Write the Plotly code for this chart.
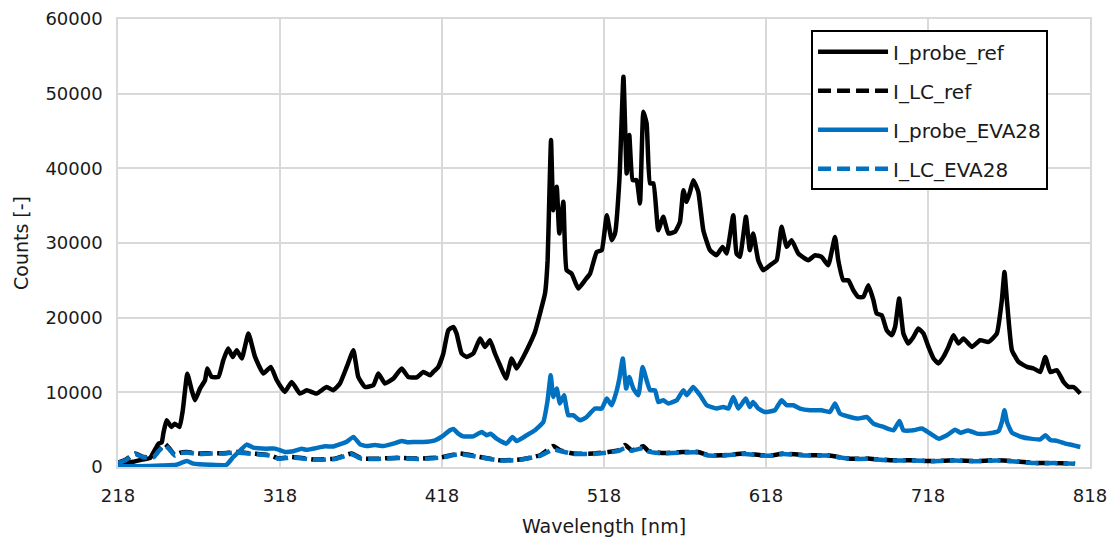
import plotly.graph_objects as go

# Emission spectra: probe and light-coupling counts vs. wavelength
wl_probe_ref = [218, 222, 227.5, 233, 237.8, 240.5, 242.9, 245, 246, 248, 251, 253, 256, 258, 260.8,
                263.5, 265.5, 268.6, 271.7, 273.1, 275.8, 280, 283, 286, 288.8, 291.3, 294.4, 298.5,
                302.6, 307.7, 312.3, 316, 321, 325.2, 330.3, 334.5, 340.6, 346.8, 350.9, 355, 359.2,
                363.3, 366.3, 370.5, 375.6, 378.7, 382.8, 388, 393.1, 397.2, 402.4, 406.5, 410.6,
                412.6, 415.7, 418.8, 421.9, 425, 427, 430.1, 433.2, 437.3, 441.5, 444.5, 447.6, 450.7,
                453.8, 457.5, 461, 464.1, 468.2, 472.3, 475.4, 478.5, 481.6, 483.2, 484.2, 485.3,
                486.7, 488.8, 490.4, 492.9, 494.9, 498, 502.1, 506.3, 509.4, 513.5, 516.6, 519.7,
                522.8, 524.8, 527.5, 530, 532, 533.6, 535.7, 538.1, 540.2, 542.3, 544.3, 546.4, 548.5,
                551.5, 554.6, 557.7, 561.8, 564.9, 567, 569, 571.1, 573.1, 576.2, 579.3, 583.4, 587.5,
                591.2, 593.7, 597.8, 599.8, 601.9, 605.6, 608, 610.1, 613.2, 616.3, 620.5, 624.6,
                627.6, 630.8, 633.8, 637.9, 644.1, 648.3, 652.3, 656.4, 660.6, 662.6, 665.7, 668.8,
                671.9, 675, 678.1, 681.2, 684.3, 686.3, 689.4, 692.5, 695.6, 697.7, 700.2, 702.8,
                705.9, 709, 712, 715.2, 718.3, 721.4, 724.5, 727.5, 730.6, 733.7, 736.8, 739.9, 745.1,
                750.2, 755.4, 760.5, 763.6, 765.2, 766.7, 769.8, 773.9, 779.1, 783.2, 787.3, 790.4,
                793.5, 797.6, 801.7, 804.8, 807.9, 812]
i_probe_ref = [500, 600, 700, 1000, 1200, 2200, 3100, 3300, 4500, 6250, 5360, 5800, 5360, 7600, 12500,
               10280, 8940, 10500, 11600, 13200, 12060, 12060, 14300, 15870, 14740, 15640, 14530, 17870,
               14740, 12520, 13400, 11620, 10050, 11390, 9830, 10280, 9830, 10720, 10280, 11180, 13400,
               15640, 12060, 10720, 10950, 12520, 11180, 11850, 13190, 12060, 12000, 12730, 12290,
               12730, 13400, 15200, 18320, 18760, 17870, 15200, 14740, 15200, 17200, 16080, 16980, 15200,
               13630, 11850, 14530, 13190, 14740, 16540, 18090, 20560, 23240, 27700, 35740, 43780,
               34400, 37520, 31280, 35510, 26360, 25900, 23900, 25020, 25900, 28800, 29040, 33730,
               30380, 31280, 38420, 52260, 39320, 44450, 38420, 38420, 35300, 47570, 46020, 37980, 37980,
               31720, 33500, 31280, 31500, 32830, 37080, 35510, 36850, 38420, 36850, 31720, 29040, 28370,
               29480, 28600, 33730, 28600, 28140, 33500, 29040, 31280, 27700, 26360, 27030, 27700,
               32160, 29480, 30380, 28600, 27700, 28370, 28140, 27030, 30820, 27700, 25020, 25020,
               23680, 22780, 22780, 24350, 22340, 20560, 20330, 18320, 17650, 18760, 22570, 17880,
               16540, 17420, 18540, 17880, 16080, 14530, 13860, 14740, 16080, 17650, 16540, 17200, 16080,
               16980, 16750, 17880, 22340, 26130, 22340, 15640, 14070, 13400, 13190, 12730, 14740,
               12730, 12960, 11390, 10720, 10720, 9830]

wl_probe_eva = [218, 230, 245, 254, 260.5, 264.5, 275, 285, 289, 293.3, 297.4, 301.5, 309.7, 315, 321,
                326.2, 331.3, 334.4, 345.8, 350.9, 356, 359, 363.3, 367.4, 371.4, 376.6, 381.7, 388,
                393.1, 397, 401.3, 406.5, 413.7, 418.8, 422.9, 425, 428, 431.1, 437.3, 442.5, 445.6,
                448, 451.7, 457.7, 461.5, 464.1, 470.3, 475.4, 480.5, 483.2, 485.1, 486.7, 488.8, 490.8,
                493.3, 495.9, 499, 503.2, 507.3, 512.4, 516.6, 519.7, 522.8, 525.9, 527.5, 529.6, 531.7,
                533.6, 536.1, 539.2, 541.8, 544.3, 546.4, 549.5, 551.5, 554.6, 557.7, 562.9, 567, 569,
                573.1, 577.3, 581.4, 587.5, 591.7, 594.8, 597.8, 600.9, 605.5, 608, 610, 613.2, 617.3,
                623.5, 627.6, 630.8, 634.8, 639, 645.2, 652.3, 657.4, 660.6, 663.7, 669.9, 675, 680.2,
                684.3, 690.5, 696.7, 700.4, 702.8, 709, 714.2, 719.4, 724.5, 729.7, 734.7, 738, 742.8,
                748.2, 754.4, 761.5, 763.6, 765.2, 766.8, 769.8, 775.9, 781.2, 787.3, 790.4, 793.5,
                797.6, 802.8, 807, 812]
i_probe_eva = [100, 100, 200, 300, 800, 450, 300, 300, 1300, 2200, 3000, 2600, 2460, 2460, 2010,
               2100, 2460, 2300, 2770, 2750, 3130, 3350, 4020, 3040, 2800, 2950, 2800, 3130,
               3480, 3300, 3350, 3350, 3580, 4200, 4920, 5100, 4470, 4100, 4110, 4690, 4250,
               4470, 3800, 3130, 4020, 3480, 4250, 4920, 6000, 8940, 12290, 9380, 10510, 8500,
               9610, 6930, 6930, 6260, 6700, 7830, 7830, 9170, 8270, 10280, 11850, 14530, 10510,
               12060, 10510, 9610, 13400, 11620, 10280, 10280, 8710, 8940, 8500, 8940, 10280, 9610,
               10720, 9610, 8270, 7830, 8040, 7830, 9380, 7830, 9170, 8040, 8710, 7830, 7370,
               7600, 8940, 8270, 8270, 7830, 7600, 7600, 7370, 8500, 7150, 6700, 6480, 6700,
               5820, 5360, 4920, 6160, 4920, 4920, 5150, 4470, 3800, 4250, 5000, 4600, 4900,
               4470, 4470, 4800, 6030, 7600, 6000, 4600, 4020, 3800, 3700, 4250, 3620,
               3500, 3130, 2950, 2680]

wl_lc = [218, 223, 228.5, 233.6, 239.8, 243, 247, 250, 253, 256, 260.3, 267.5, 274.7, 283, 291.3,
         301.5, 311.8, 317, 325.2, 339.6, 351.9, 362.2, 368.3, 378.6, 391, 403.3, 417.7, 429, 441.5,
         453.8, 466.2, 478.5, 486.7, 490.8, 499, 511.4, 520.7, 526.9, 531, 535.1, 542.3, 545.4, 553.6,
         567, 576.2, 582.4, 590.6, 605, 615.3, 622.5, 628.6, 643.1, 655.4, 669.8, 682.2, 694.5, 706.9,
         721.2, 734.7, 747, 759.4, 769.7, 784, 796.4, 808.8]
i_lc_ref = [600, 1000, 1800, 1340, 1340, 2200, 3100, 2400, 1600, 1900, 2010, 1800, 1850, 1850, 2010,
            1800, 1570, 1150, 1340, 1000, 1120, 1800, 1150, 1120, 1250, 1120, 1300, 1800, 1340,
            900, 1000, 1570, 2800, 2240, 1800, 1800, 2010, 2240, 2950, 2240, 2770, 2140, 1880,
            2010, 2010, 1570, 1570, 1800, 1570, 1570, 1800, 1570, 1570, 1120, 1120, 900, 900,
            800, 900, 800, 900, 800, 540, 540, 450]
i_lc_eva = [550, 950, 1750, 1300, 1300, 2100, 2900, 2300, 1550, 1850, 1950, 1750, 1800, 1800, 1950,
            1750, 1520, 1100, 1300, 960, 1080, 1700, 1100, 1080, 1200, 1080, 1260, 1720, 1300,
            870, 970, 1500, 2350, 2150, 1750, 1750, 1950, 2150, 2550, 2180, 2550, 2080, 1830,
            1950, 1950, 1530, 1530, 1750, 1530, 1530, 1750, 1530, 1530, 1090, 1090, 880, 880,
            780, 880, 780, 880, 780, 520, 520, 430]

x_ticks = [218, 318, 418, 518, 618, 718, 818]
y_ticks = [0, 10000, 20000, 30000, 40000, 50000, 60000]

BLACK = "#000000"
BLUE = "#0070C0"
FONT = "DejaVu Sans"
TEXT = "#1a1a1a"
DASH = "13px,6px"

fig = go.Figure()
series = [
    ("I_probe_ref", wl_probe_ref, i_probe_ref, BLACK, "solid"),
    ("I_LC_ref", wl_lc, i_lc_ref, BLACK, DASH),
    ("I_probe_EVA28", wl_probe_eva, i_probe_eva, BLUE, "solid"),
    ("I_LC_EVA28", wl_lc, i_lc_eva, BLUE, DASH),
]
for name, x, y, color, dash in series:
    fig.add_trace(go.Scatter(
        x=x, y=y, name=name, mode="lines", legendgroup=name,
        line=dict(color=color, width=4.5, dash=dash, shape="spline", smoothing=0.4),
    ))

axis_common = dict(
    showgrid=True, gridcolor="#D9D9D9", gridwidth=1.5,
    showline=True, linecolor="#D9D9D9", linewidth=1.5, mirror=True,
    zeroline=False, ticks="", automargin=False,
    tickfont=dict(family=FONT, size=18, color=TEXT),
)
fig.update_xaxes(
    range=[218, 818], tickvals=x_ticks, ticktext=[str(v) for v in x_ticks],
    ticklabelstandoff=12,
    title=dict(text="Wavelength [nm]", font=dict(family=FONT, size=19, color=TEXT), standoff=14),
    **axis_common,
)
fig.update_yaxes(
    range=[0, 60000], tickvals=y_ticks, ticktext=[str(v) for v in y_ticks],
    ticklabelstandoff=10,
    title=dict(text="Counts [-]", font=dict(family=FONT, size=19, color=TEXT), standoff=12),
    **axis_common,
)

fig.update_layout(
    width=1113, height=542,
    margin=dict(l=118, r=23, t=19, b=75),
    paper_bgcolor="white", plot_bgcolor="white",
    font=dict(family=FONT, color=TEXT),
    legend=dict(
        x=0.713, y=0.975, xanchor="left", yanchor="top",
        bgcolor="white", bordercolor="#000000", borderwidth=2,
        font=dict(family=FONT, size=20, color=TEXT),
        itemwidth=70, tracegroupgap=10,
    ),
)

fig.write_html("out.html")
